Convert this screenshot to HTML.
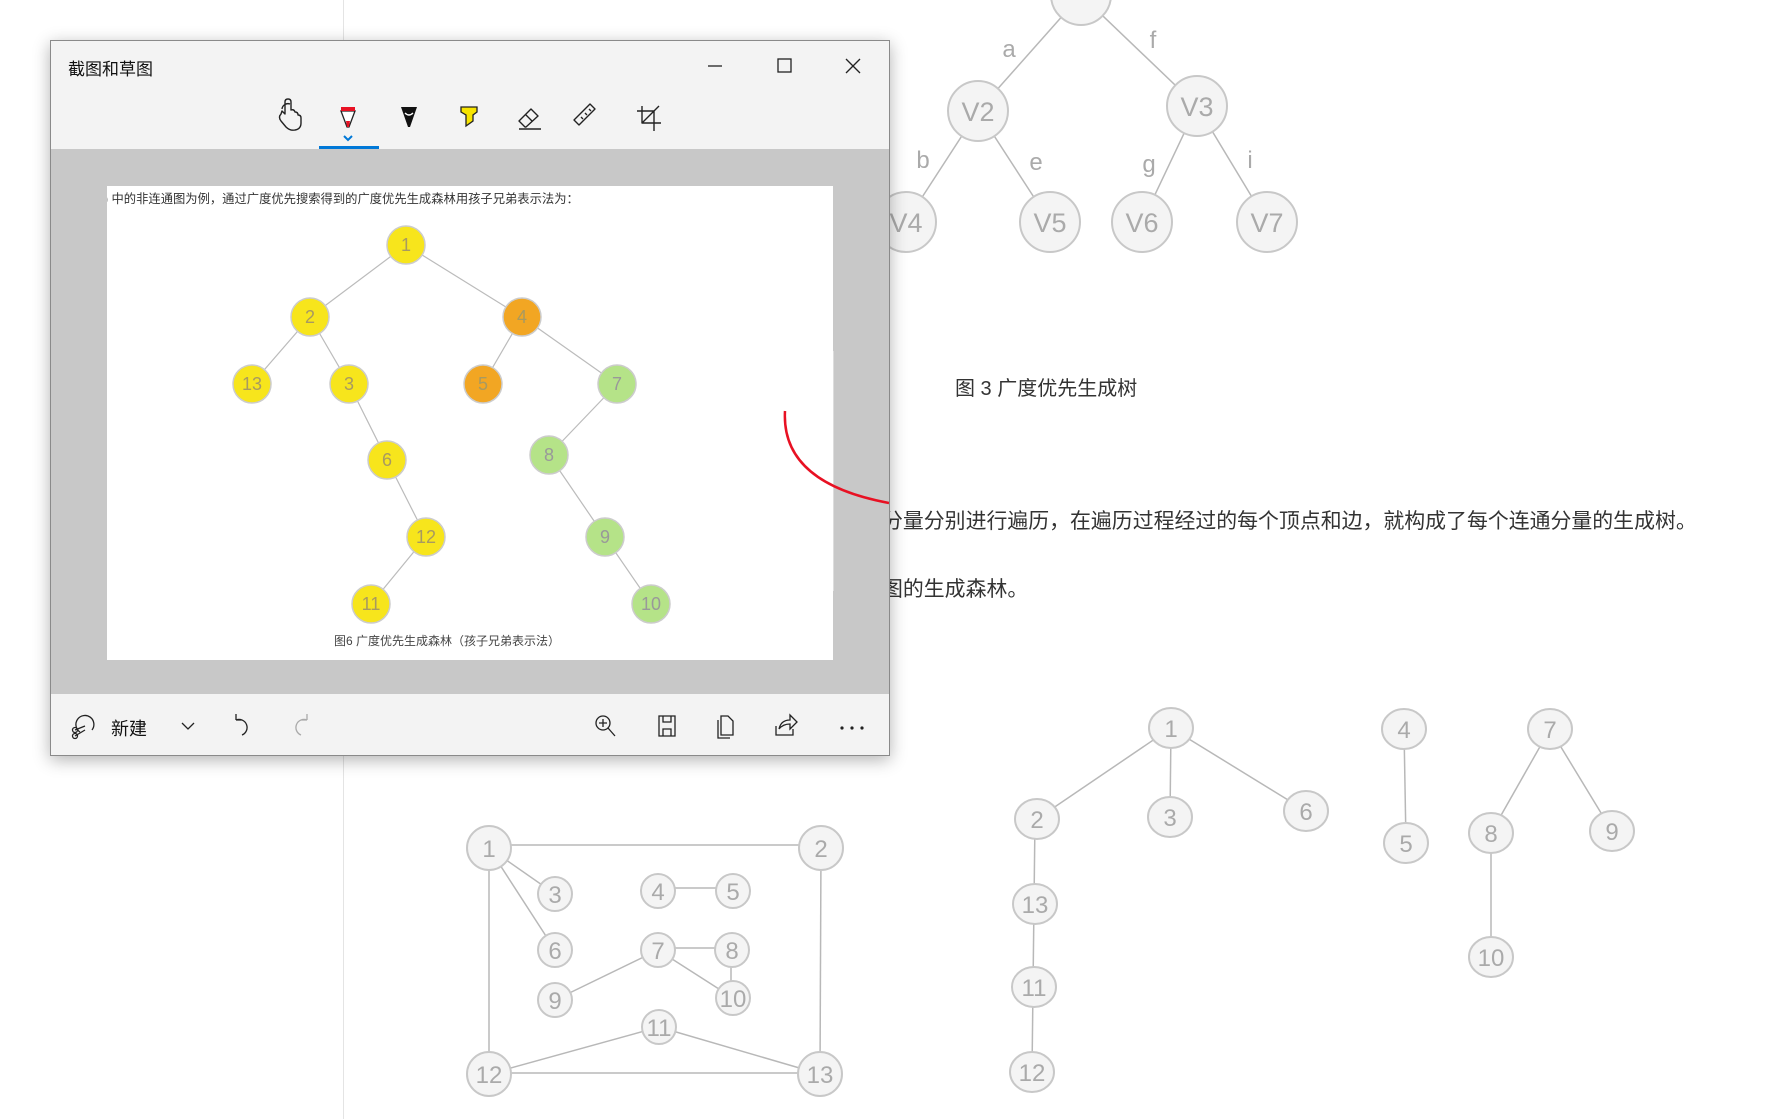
<!DOCTYPE html>
<html><head><meta charset="utf-8"><style>
html,body{margin:0;padding:0;width:1776px;height:1119px;overflow:hidden;background:#fff;position:relative;font-family:"Liberation Sans","Noto Sans CJK SC",sans-serif}
.abs{position:absolute}
</style></head><body>
<div class="abs" style="left:343px;top:0;width:1px;height:1119px;background:#e4e4e4"></div>

<svg class="abs" style="left:0;top:0" width="1776" height="1119" font-family="Liberation Sans, DejaVu Sans, sans-serif">
<g stroke="#b8b8b8" stroke-width="1.5" fill="none">
<line x1="1081" y1="-5" x2="978" y2="111"/><line x1="1081" y1="-5" x2="1197" y2="106"/>
<line x1="978" y1="111" x2="906" y2="222"/><line x1="978" y1="111" x2="1050" y2="222"/>
<line x1="1197" y1="106" x2="1142" y2="222"/><line x1="1197" y1="106" x2="1267" y2="222"/>
<line x1="489" y1="845" x2="821" y2="845"/><line x1="489" y1="848" x2="555" y2="894"/>
<line x1="489" y1="848" x2="555" y2="950"/><line x1="489" y1="848" x2="489" y2="1074"/>
<line x1="821" y1="848" x2="820" y2="1074"/><line x1="658" y1="888" x2="733" y2="888"/>
<line x1="658" y1="948" x2="732" y2="948"/><line x1="658" y1="950" x2="555" y2="1000"/>
<line x1="658" y1="950" x2="733" y2="998"/><line x1="731" y1="950" x2="731" y2="998"/>
<line x1="659" y1="1027" x2="489" y2="1074"/><line x1="659" y1="1027" x2="820" y2="1074"/>
<line x1="489" y1="1073" x2="820" y2="1073"/>
<line x1="1171" y1="728" x2="1037" y2="819"/><line x1="1171" y1="728" x2="1170" y2="817"/>
<line x1="1171" y1="728" x2="1306" y2="811"/><line x1="1035" y1="819" x2="1032" y2="1072"/>
<line x1="1404" y1="729" x2="1406" y2="843"/><line x1="1550" y1="729" x2="1491" y2="833"/>
<line x1="1550" y1="729" x2="1612" y2="831"/><line x1="1491" y1="833" x2="1491" y2="957"/>
</g>
<g fill="#f4f4f4" stroke="#c8c8c8" stroke-width="2">
<circle cx="1081" cy="-5" r="30"/><circle cx="978" cy="111" r="30"/><circle cx="1197" cy="106" r="30"/>
<circle cx="906" cy="222" r="30"/><circle cx="1050" cy="222" r="30"/><circle cx="1142" cy="222" r="30"/><circle cx="1267" cy="222" r="30"/>
</g>
<g fill="#aaa" font-size="27" text-anchor="middle">
<text x="978" y="121">V2</text><text x="1197" y="116">V3</text><text x="906" y="232">V4</text>
<text x="1050" y="232">V5</text><text x="1142" y="232">V6</text><text x="1267" y="232">V7</text>
</g>
<g fill="#aaa" font-size="24" text-anchor="middle">
<text x="1009" y="57">a</text><text x="1153" y="48">f</text><text x="923" y="168">b</text>
<text x="1036" y="170">e</text><text x="1149" y="172">g</text><text x="1250" y="168">i</text>
</g>
<g fill="#f4f4f4" stroke="#c8c8c8" stroke-width="2">
<circle cx="489" cy="848" r="22"/><circle cx="821" cy="848" r="22"/><circle cx="555" cy="894" r="17"/>
<circle cx="658" cy="891" r="17"/><circle cx="733" cy="891" r="17"/><circle cx="555" cy="950" r="17"/>
<circle cx="658" cy="950" r="17"/><circle cx="732" cy="950" r="17"/><circle cx="555" cy="1000" r="17"/>
<circle cx="733" cy="998" r="17"/><circle cx="659" cy="1027" r="17"/><circle cx="489" cy="1074" r="22"/>
<circle cx="820" cy="1074" r="22"/>
<ellipse cx="1171" cy="728" rx="22" ry="20"/><ellipse cx="1037" cy="819" rx="22" ry="20"/><ellipse cx="1170" cy="817" rx="22" ry="20"/>
<ellipse cx="1306" cy="811" rx="22" ry="20"/><ellipse cx="1035" cy="904" rx="22" ry="20"/><ellipse cx="1034" cy="987" rx="22" ry="20"/>
<ellipse cx="1032" cy="1072" rx="22" ry="20"/><ellipse cx="1404" cy="729" rx="22" ry="20"/><ellipse cx="1406" cy="843" rx="22" ry="20"/>
<ellipse cx="1550" cy="729" rx="22" ry="20"/><ellipse cx="1491" cy="833" rx="22" ry="20"/><ellipse cx="1612" cy="831" rx="22" ry="20"/>
<ellipse cx="1491" cy="957" rx="22" ry="20"/>
</g>
<g fill="#aaa" font-size="24" text-anchor="middle">
<text x="489" y="857">1</text><text x="821" y="857">2</text><text x="555" y="903">3</text>
<text x="658" y="900">4</text><text x="733" y="900">5</text><text x="555" y="959">6</text>
<text x="658" y="959">7</text><text x="732" y="959">8</text><text x="555" y="1009">9</text>
<text x="733" y="1007">10</text><text x="659" y="1036">11</text><text x="489" y="1083">12</text>
<text x="820" y="1083">13</text>
<text x="1171" y="737">1</text><text x="1037" y="828">2</text><text x="1170" y="826">3</text>
<text x="1306" y="820">6</text><text x="1035" y="913">13</text><text x="1034" y="996">11</text>
<text x="1032" y="1081">12</text><text x="1404" y="738">4</text><text x="1406" y="852">5</text>
<text x="1550" y="738">7</text><text x="1491" y="842">8</text><text x="1612" y="840">9</text>
<text x="1491" y="966">10</text>
</g>
</svg>

<div class="abs" style="left:955px;top:372px;font-size:20px;color:#333;white-space:nowrap">图 3 广度优先生成树</div>
<div class="abs" style="left:882px;top:505px;font-size:20.9px;color:#333;white-space:nowrap">分量分别进行遍历，在遍历过程经过的每个顶点和边，就构成了每个连通分量的生成树。</div>
<div class="abs" style="left:882px;top:573px;font-size:20.9px;color:#333;white-space:nowrap">图的生成森林。</div>

<div class="abs" style="left:50px;top:40px;width:838px;height:714px;border:1px solid #8a8a8a;background:#f3f3f3;box-shadow:0 4px 16px rgba(0,0,0,0.3);overflow:hidden">
  <div class="abs" style="left:17px;top:14px;font-size:17px;color:#111">截图和草图</div>
  <div class="abs" style="left:0;top:108px;width:838px;height:545px;background:#c8c8c8"></div>
  <div class="abs" style="left:56px;top:145px;width:726px;height:474px;background:#fff;overflow:hidden">
    <div class="abs" style="left:-3px;top:3px;font-size:12.3px;color:#333;white-space:nowrap">) 中的非连通图为例，通过广度优先搜索得到的广度优先生成森林用孩子兄弟表示法为：</div>
    <div class="abs" style="left:227px;top:446px;font-size:12px;color:#444;white-space:nowrap">图6 广度优先生成森林（孩子兄弟表示法）</div>
    <svg class="abs" style="left:0;top:0" width="726" height="474" font-family="Liberation Sans, sans-serif">
      <g stroke="#bbb" stroke-width="1.2">
        <line x1="299" y1="59" x2="203" y2="131"/><line x1="299" y1="59" x2="415" y2="131"/>
        <line x1="203" y1="131" x2="145" y2="198"/><line x1="203" y1="131" x2="242" y2="198"/>
        <line x1="415" y1="131" x2="376" y2="198"/><line x1="415" y1="131" x2="510" y2="198"/>
        <line x1="242" y1="198" x2="280" y2="274"/><line x1="280" y1="274" x2="319" y2="351"/>
        <line x1="319" y1="351" x2="264" y2="418"/><line x1="510" y1="198" x2="442" y2="269"/>
        <line x1="442" y1="269" x2="498" y2="351"/><line x1="498" y1="351" x2="544" y2="418"/>
      </g>
      <g stroke="#ccc" stroke-width="1.5">
        <circle cx="299" cy="59" r="19" fill="#f7e51c"/><circle cx="203" cy="131" r="19" fill="#f7e51c"/>
        <circle cx="415" cy="131" r="19" fill="#f2a623"/><circle cx="145" cy="198" r="19" fill="#f7e51c"/>
        <circle cx="242" cy="198" r="19" fill="#f7e51c"/><circle cx="376" cy="198" r="19" fill="#f2a623"/>
        <circle cx="510" cy="198" r="19" fill="#b5e388"/><circle cx="280" cy="274" r="19" fill="#f7e51c"/>
        <circle cx="442" cy="269" r="19" fill="#b5e388"/><circle cx="319" cy="351" r="19" fill="#f7e51c"/>
        <circle cx="498" cy="351" r="19" fill="#b5e388"/><circle cx="264" cy="418" r="19" fill="#f7e51c"/>
        <circle cx="544" cy="418" r="19" fill="#b5e388"/>
      </g>
      <g fill="#a89a60" font-size="18" text-anchor="middle">
        <text x="299" y="65">1</text><text x="203" y="137">2</text><text x="415" y="137">4</text>
        <text x="145" y="204">13</text><text x="242" y="204">3</text><text x="376" y="204">5</text>
        <text x="510" y="204" fill="#999">7</text><text x="280" y="280">6</text><text x="442" y="275" fill="#999">8</text>
        <text x="319" y="357">12</text><text x="498" y="357" fill="#999">9</text><text x="264" y="424">11</text>
        <text x="544" y="424" fill="#999">10</text>
      </g>
    </svg>
  </div>
  <div class="abs" style="left:782px;top:310px;width:1px;height:240px;background:#ddd"></div>
  <svg class="abs" style="left:0;top:0" width="838" height="714">
    <path d="M734 370 q-4 72 104 92" stroke="#e81123" stroke-width="2.5" fill="none"/>
    <g stroke="#222" stroke-width="1.3" fill="none">
      <line x1="657" y1="25" x2="671" y2="25"/>
      <rect x="727" y="18" width="13" height="13"/>
      <line x1="795" y1="18" x2="809" y2="32"/><line x1="809" y1="18" x2="795" y2="32"/>
    </g>
    <g stroke="#222" stroke-width="1.4" fill="none" stroke-linejoin="round">
      <g transform="translate(239,77)"><path d="M-9 -4 q-3 3 0 7 l5 6 q4 4 9 3 q6 -1 6 -7 v-5 q0 -3 -3 -3 q0 -3 -3 -3 q-1 -3 -4 -2 v-8 q0 -3 -3 -3 q-3 0 -3 3 v12 l-3 -3 z M-8 -9 a6 6 0 0 1 8 -5"/></g>
      <g transform="translate(478,77)"><path d="M-4 9 l-6 -6 l12 -12 l7 7 l-12 11 z M-3 -3 l6 6 M-10 11 h22"/></g>
      <g transform="translate(537,77)"><path d="M-9 7 l-5 -5 l16 -16 l5 5 z M-7 -1 l2 2 M-3 -5 l2 2 M1 -9 l2 2"/></g>
      <g transform="translate(598,77)"><path d="M-7 -12 v17 h19 M-12 -7 h17 v20 M-7 5 l17 -17"/></g>
    </g>
    <g transform="translate(297,77)">
      <path d="M-7 -7 h14 l-6 16 h-2 z" fill="#fff" stroke="#222" stroke-width="1.3"/>
      <rect x="-7" y="-11" width="14" height="4" fill="#e81123"/><path d="M-2 3 h4 l-1 6 h-2z" fill="#e81123"/>
    </g>
    <g transform="translate(358,77)">
      <path d="M-8 -11 h16 l-7 20 h-2 z" fill="#111"/><path d="M-4 -5 q4 4 8 0" stroke="#fff" stroke-width="1.3" fill="none"/>
    </g>
    <g transform="translate(418,77)">
      <path d="M-8 -11 h16 v5 l-4 3 v6 l-7 5 v-11 l-5 -3 z" fill="#f7e400" stroke="#222" stroke-width="1.3"/>
    </g>
    <path d="M293 95 l4 4 l4 -4" stroke="#0078d7" stroke-width="2" fill="none"/>
    <rect x="268" y="105" width="60" height="3" fill="#0078d7"/>
    <g stroke="#222" stroke-width="1.3" fill="none">
      <g transform="translate(33,685)"><path d="M-4 6 a9 9 0 1 1 12 -2 M-9 4 l10 -4 M-9 10 l10 -6"/><circle cx="-9" cy="4" r="2.5"/><circle cx="-9" cy="10" r="2.5"/></g>
      <path d="M131 682 l6 6 l6 -6"/>
      <g transform="translate(191,685)"><path d="M-6 -6 a8 8 0 1 1 6 15 M-6 -6 v-6 M-6 -6 h6"/></g>
      <g transform="translate(555,685)"><circle cx="-3" cy="-3" r="7"/><path d="M2 2 l7 8 M-3 -7 v8 M-7 -3 h8"/></g>
      <g transform="translate(616,685)"><path d="M-8 -10 h16 v20 h-16 z M-4 -10 v6 h8 v-6 M-4 10 v-7 h8 v7"/></g>
      <g transform="translate(675,685)"><path d="M-5 -10 h7 l5 5 v14 h-12 z M-8 -6 v18 h12"/></g>
      <g transform="translate(735,685)"><path d="M-10 0 v9 h17 v-6 M-7 3 q2 -9 11 -9 v-5 l7 7 l-7 7 v-5 q-7 0 -11 5"/></g>
    </g>
    <g transform="translate(250,685)"><path d="M6 -6 a8 8 0 1 0 -6 15 M6 -6 v-6 M6 -6 h-6" stroke="#aaa" stroke-width="1.3" fill="none"/></g>
    <g fill="#222"><circle cx="791" cy="687" r="1.6"/><circle cx="801" cy="687" r="1.6"/><circle cx="811" cy="687" r="1.6"/></g>
  </svg>
  <div class="abs" style="left:60px;top:674px;font-size:18px;color:#111">新建</div>
</div>
</body></html>
